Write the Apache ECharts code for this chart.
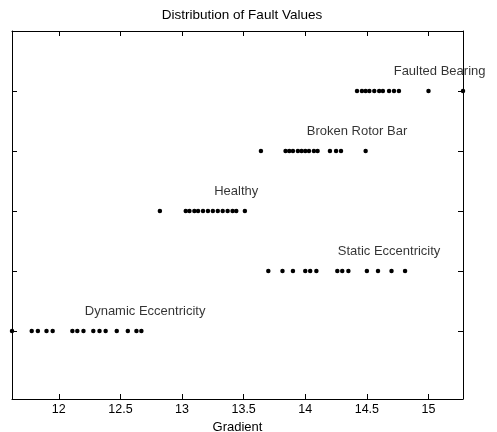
<!DOCTYPE html>
<html>
<head>
<meta charset="utf-8">
<script src="https://cdn.jsdelivr.net/npm/echarts@6/dist/echarts.min.js"></script>
<style>html,body{margin:0;padding:0;background:#fff}#c{width:497px;height:432px}</style>
</head>
<body>
<div id="c"></div>
<script>
// Fault classes (row index 1..5, bottom to top)
const categories = ["Dynamic Eccentricity", "Static Eccentricity", "Healthy", "Broken Rotor Bar", "Faulted Bearing"];
const rowValue = [1, 2, 3, 4, 5];

// Gradient values per class
const dynamicEcc = [11.62, 11.78, 11.83, 11.90, 11.95, 12.11, 12.15, 12.20, 12.28, 12.33, 12.38, 12.47, 12.56, 12.63, 12.67];
const staticEcc = [13.70, 13.815, 13.90, 14.00, 14.04, 14.09, 14.26, 14.30, 14.35, 14.50, 14.59, 14.70, 14.81];
const healthy = [12.82, 13.03, 13.06, 13.10, 13.13, 13.17, 13.21, 13.25, 13.29, 13.33, 13.37, 13.41, 13.44, 13.51];
const brokenRotor = [13.64, 13.84, 13.87, 13.90, 13.94, 13.97, 14.00, 14.03, 14.07, 14.10, 14.20, 14.25, 14.29, 14.49];
const faultedBearing = [14.42, 14.46, 14.49, 14.52, 14.56, 14.60, 14.63, 14.68, 14.72, 14.76, 15.00, 15.28];

// Annotation anchor (gradient value where each class name is centred)
const labelX = [12.70, 14.68, 13.44, 14.42, 15.09];

// Axis ticks
const xTicks = [12, 12.5, 13, 13.5, 14, 14.5, 15];
const yTicks = [1, 2, 3, 4, 5];

const groups = [dynamicEcc, staticEcc, healthy, brokenRotor, faultedBearing];
const FONT = "Liberation Sans, Arial, Helvetica, sans-serif";

const allVals = groups.flat();
const xMin = Math.min(...allVals), xMax = Math.max(...allVals);

const series = groups.map((g, i) => ({
  type: "scatter",
  name: categories[i],
  symbol: "circle",
  symbolSize: 4.5,
  itemStyle: { color: "#000", opacity: 1 },
  data: g.map(v => [v, rowValue[i]]),
  silent: true
}));

series.push({
  type: "scatter",
  name: "labels",
  symbolSize: 0,
  silent: true,
  data: categories.map((c, i) => ({ name: c, value: [labelX[i], rowValue[i]] })),
  label: {
    show: true,
    position: "inside",
    offset: [0, -20],
    formatter: p => p.name,
    color: "#000",
    fontFamily: FONT,
    fontSize: 13
  }
});

const xCommon = {
  type: "value",
  min: xMin,
  max: xMax,
  axisLine: { onZero: false, lineStyle: { color: "#000", width: 1 } },
  axisTick: { inside: true, length: 5, customValues: xTicks, lineStyle: { color: "#000" } },
  splitLine: { show: false }
};
const yCommon = {
  type: "value",
  min: -0.133,
  max: 6,
  axisLine: { onZero: false, lineStyle: { color: "#000", width: 1 } },
  axisTick: { inside: true, length: 5, customValues: yTicks, lineStyle: { color: "#000" } },
  axisLabel: { show: false },
  splitLine: { show: false }
};

const chart = echarts.init(document.getElementById("c"), null, { renderer: "canvas" });
chart.setOption({
  animation: false,
  backgroundColor: "#fff",
  title: {
    text: "Distribution of Fault Values",
    left: 237,
    textAlign: "center",
    top: 3,
    textStyle: { fontFamily: FONT, fontSize: 13.5, fontWeight: "normal", color: "#000" }
  },
  grid: { left: 12, right: 34, top: 31, bottom: 33, containLabel: false, outerBoundsMode: "none" },
  xAxis: [
    Object.assign({}, xCommon, {
      position: "bottom",
      name: "Gradient",
      nameLocation: "middle",
      nameGap: 19,
      nameTextStyle: { fontFamily: FONT, fontSize: 13, color: "#000" },
      axisLabel: {
        customValues: xTicks,
        color: "#000",
        fontFamily: FONT,
        fontSize: 12.5,
        margin: 4,
        formatter: v => String(v)
      }
    }),
    Object.assign({}, xCommon, { position: "top", axisLabel: { show: false } })
  ],
  yAxis: [
    Object.assign({}, yCommon, { position: "left" }),
    Object.assign({}, yCommon, { position: "right" })
  ],
  series: series
});
</script>
</body>
</html>
